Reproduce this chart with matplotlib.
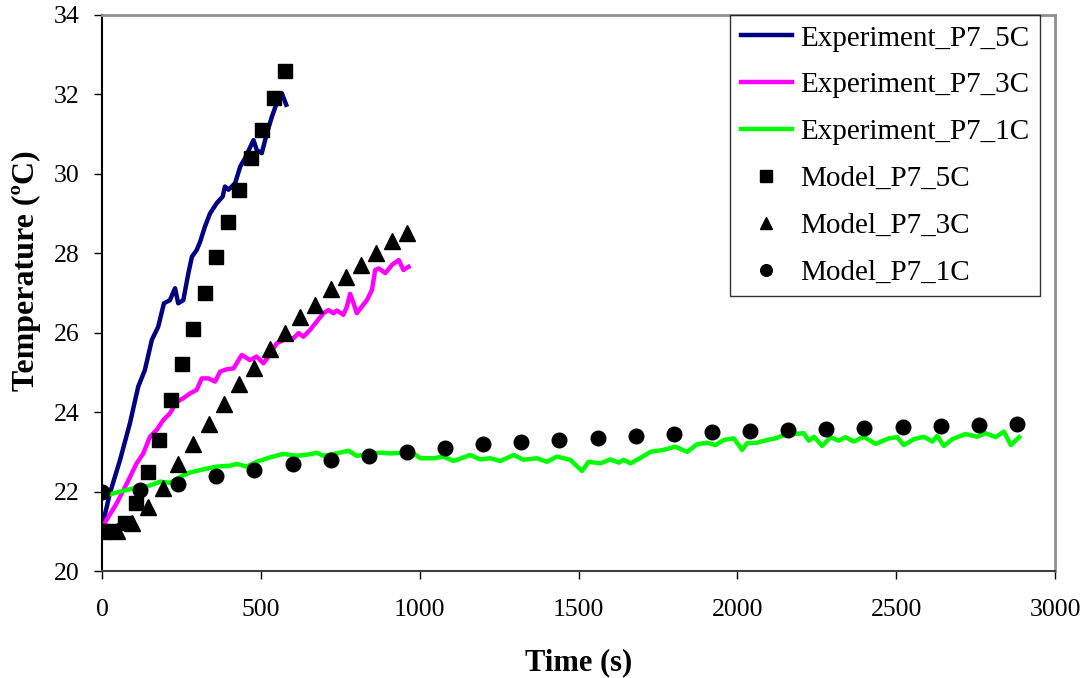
"""Temperature rise of cell P7 at 1C, 3C and 5C: experiment vs model."""

import matplotlib

matplotlib.use("Agg")
import matplotlib.pyplot as plt

# experiment, 5C
exp_5c_time = [0, 25, 57, 88, 114, 135, 157, 177, 195, 214, 230, 240, 256, 272, 283, 298,
               309, 324, 340, 361, 380, 387, 398, 419, 435, 450, 477, 487, 503, 519, 535,
               550, 566, 580]
exp_5c_temp = [21.1, 21.96, 22.8, 23.72, 24.64, 25.06, 25.82, 26.15, 26.74, 26.82, 27.12,
               26.74, 26.82, 27.5, 27.91, 28.08, 28.29, 28.67, 29.0, 29.26, 29.43, 29.68,
               29.6, 29.76, 30.18, 30.39, 30.85, 30.6, 30.52, 31.02, 31.44, 31.78, 32.03,
               31.74]

# experiment, 3C
exp_3c_time = [0, 46, 78, 109, 130, 151, 172, 193, 214, 235, 256, 277, 298, 314, 335, 356,
               372, 393, 414, 440, 466, 487, 508, 524, 550, 582, 603, 619, 634, 655, 676,
               697, 713, 729, 739, 760, 771, 781, 792, 802, 818, 834, 850, 860, 871, 892,
               913, 934, 949, 965]
exp_3c_temp = [21.1, 21.7, 22.2, 22.71, 22.96, 23.38, 23.55, 23.8, 23.97, 24.26, 24.35,
               24.47, 24.56, 24.85, 24.85, 24.77, 25.02, 25.08, 25.1, 25.44, 25.31, 25.4,
               25.23, 25.4, 25.73, 25.86, 25.86, 25.99, 25.9, 26.07, 26.28, 26.49, 26.57,
               26.49, 26.56, 26.45, 26.66, 26.98, 26.74, 26.49, 26.66, 26.82, 27.08, 27.58,
               27.62, 27.5, 27.71, 27.83, 27.58, 27.66]

# experiment, 1C
exp_1c_time = [0, 25, 67, 99, 146, 183, 214, 246, 277, 319, 361, 403, 424, 455, 487, 529,
               571, 613, 655, 676, 697, 739, 776, 802, 834, 876, 907, 949, 981, 1002, 1044,
               1075, 1107, 1159, 1191, 1222, 1254, 1296, 1327, 1369, 1401, 1432, 1474, 1511,
               1532, 1569, 1600, 1627, 1642, 1664, 1695, 1727, 1768, 1805, 1842, 1873, 1905,
               1931, 1957, 1989, 2015, 2031, 2062, 2094, 2120, 2146, 2178, 2209, 2225, 2241,
               2267, 2293, 2319, 2340, 2367, 2398, 2435, 2477, 2503, 2524, 2556, 2587, 2614,
               2629, 2650, 2677, 2718, 2755, 2781, 2813, 2839, 2861, 2887]
exp_1c_temp = [21.92, 21.93, 22.02, 22.08, 22.14, 22.25, 22.22, 22.37, 22.48, 22.56, 22.63,
               22.65, 22.7, 22.63, 22.75, 22.86, 22.95, 22.9, 22.94, 22.98, 22.9, 22.96,
               23.03, 22.9, 22.94, 22.98, 22.96, 22.98, 22.96, 22.84, 22.84, 22.88, 22.77,
               22.92, 22.81, 22.84, 22.77, 22.92, 22.8, 22.84, 22.75, 22.88, 22.8, 22.52,
               22.75, 22.71, 22.81, 22.73, 22.8, 22.71, 22.85, 23.0, 23.05, 23.13, 23.0,
               23.19, 23.23, 23.17, 23.3, 23.34, 23.05, 23.22, 23.23, 23.3, 23.34, 23.42,
               23.45, 23.47, 23.28, 23.38, 23.15, 23.37, 23.28, 23.37, 23.26, 23.38, 23.2,
               23.34, 23.37, 23.17, 23.32, 23.38, 23.26, 23.4, 23.15, 23.32, 23.45, 23.38,
               23.47, 23.37, 23.51, 23.17, 23.37]

# model, 5C (36 s steps)
model_5c_time = [0, 36, 72, 108, 144, 180, 216, 252, 288, 324, 360, 396, 432, 468, 504, 540, 576]
model_5c_temp = [21.0, 21.0, 21.2, 21.7, 22.5, 23.3, 24.3, 25.2, 26.1, 27.0, 27.9, 28.8,
                 29.6, 30.4, 31.1, 31.9, 32.6]

# model, 3C (48 s steps)
model_3c_time = [0, 48, 96, 144, 192, 240, 288, 336, 384, 432, 480, 528, 576, 624, 672,
                 720, 768, 816, 864, 912, 960]
model_3c_temp = [21.0, 21.0, 21.2, 21.6, 22.1, 22.7, 23.2, 23.7, 24.2, 24.7, 25.1, 25.6,
                 26.0, 26.4, 26.7, 27.1, 27.4, 27.7, 28.0, 28.3, 28.5]

# model, 1C (120 s steps)
model_1c_time = [0, 120, 240, 360, 480, 600, 720, 840, 960, 1080, 1200, 1320, 1440, 1560,
                 1680, 1800, 1920, 2040, 2160, 2280, 2400, 2520, 2640, 2760, 2880]
model_1c_temp = [22.0, 22.05, 22.2, 22.4, 22.55, 22.7, 22.8, 22.9, 23.0, 23.1, 23.2, 23.25,
                 23.3, 23.35, 23.4, 23.45, 23.5, 23.53, 23.56, 23.58, 23.6, 23.63, 23.65,
                 23.67, 23.7]

x_ticks = [0, 500, 1000, 1500, 2000, 2500, 3000]
y_ticks = [20, 22, 24, 26, 28, 30, 32, 34]

plt.rcParams["font.family"] = ["Liberation Serif", "DejaVu Serif"]

fig = plt.figure(figsize=(10.86, 6.78), dpi=100)
ax = fig.add_axes([0.0939, 0.1578, 0.8776, 0.8201])

ax.plot(exp_5c_time, exp_5c_temp, color="#000080", lw=3.2, label="Experiment_P7_5C")
ax.plot(exp_3c_time, exp_3c_temp, color="#FF00FF", lw=3.2, label="Experiment_P7_3C")
ax.plot(exp_1c_time, exp_1c_temp, color="#00FF00", lw=3.2, label="Experiment_P7_1C")
ax.plot(model_5c_time, model_5c_temp, ls="none", marker="s", ms=10, color="black",
        label="Model_P7_5C")
ax.plot(model_3c_time, model_3c_temp, ls="none", marker="^", ms=11, color="black",
        label="Model_P7_3C")
ax.plot(model_1c_time, model_1c_temp, ls="none", marker="o", ms=10.5, color="black",
        label="Model_P7_1C")

ax.set_xlim(0, 3000)
ax.set_ylim(20, 34)
ax.set_xticks(x_ticks)
ax.set_yticks(y_ticks)
ax.tick_params(axis="both", direction="out", labelsize=18.5, length=6, width=1, color="black")
ax.tick_params(axis="x", pad=14)
ax.tick_params(axis="y", pad=10)

ax.spines["left"].set_color("black")
ax.spines["bottom"].set_color("#404040")
ax.spines["top"].set_color("#909090")
ax.spines["right"].set_color("#909090")
for side in ["left", "bottom"]:
    ax.spines[side].set_linewidth(1.5)
for side in ["top", "right"]:
    ax.spines[side].set_linewidth(2)

ax.set_xlabel("Time (s)", fontsize=22, fontweight="bold", labelpad=20)
ax.set_ylabel("Temperature (ºC)", fontsize=23, fontweight="bold")
ax.yaxis.set_label_coords(-0.064, 0.54)

leg = ax.legend(loc="upper right", bbox_to_anchor=(0.984, 1.0), borderaxespad=0,
                fontsize=21, frameon=True, fancybox=False, edgecolor="black",
                handlelength=1.75, handletextpad=0.3, labelspacing=0.7, markerscale=0.8,
                borderpad=0.35)
leg.get_frame().set_linewidth(1.0)

fig.savefig("out.png", dpi=100)
